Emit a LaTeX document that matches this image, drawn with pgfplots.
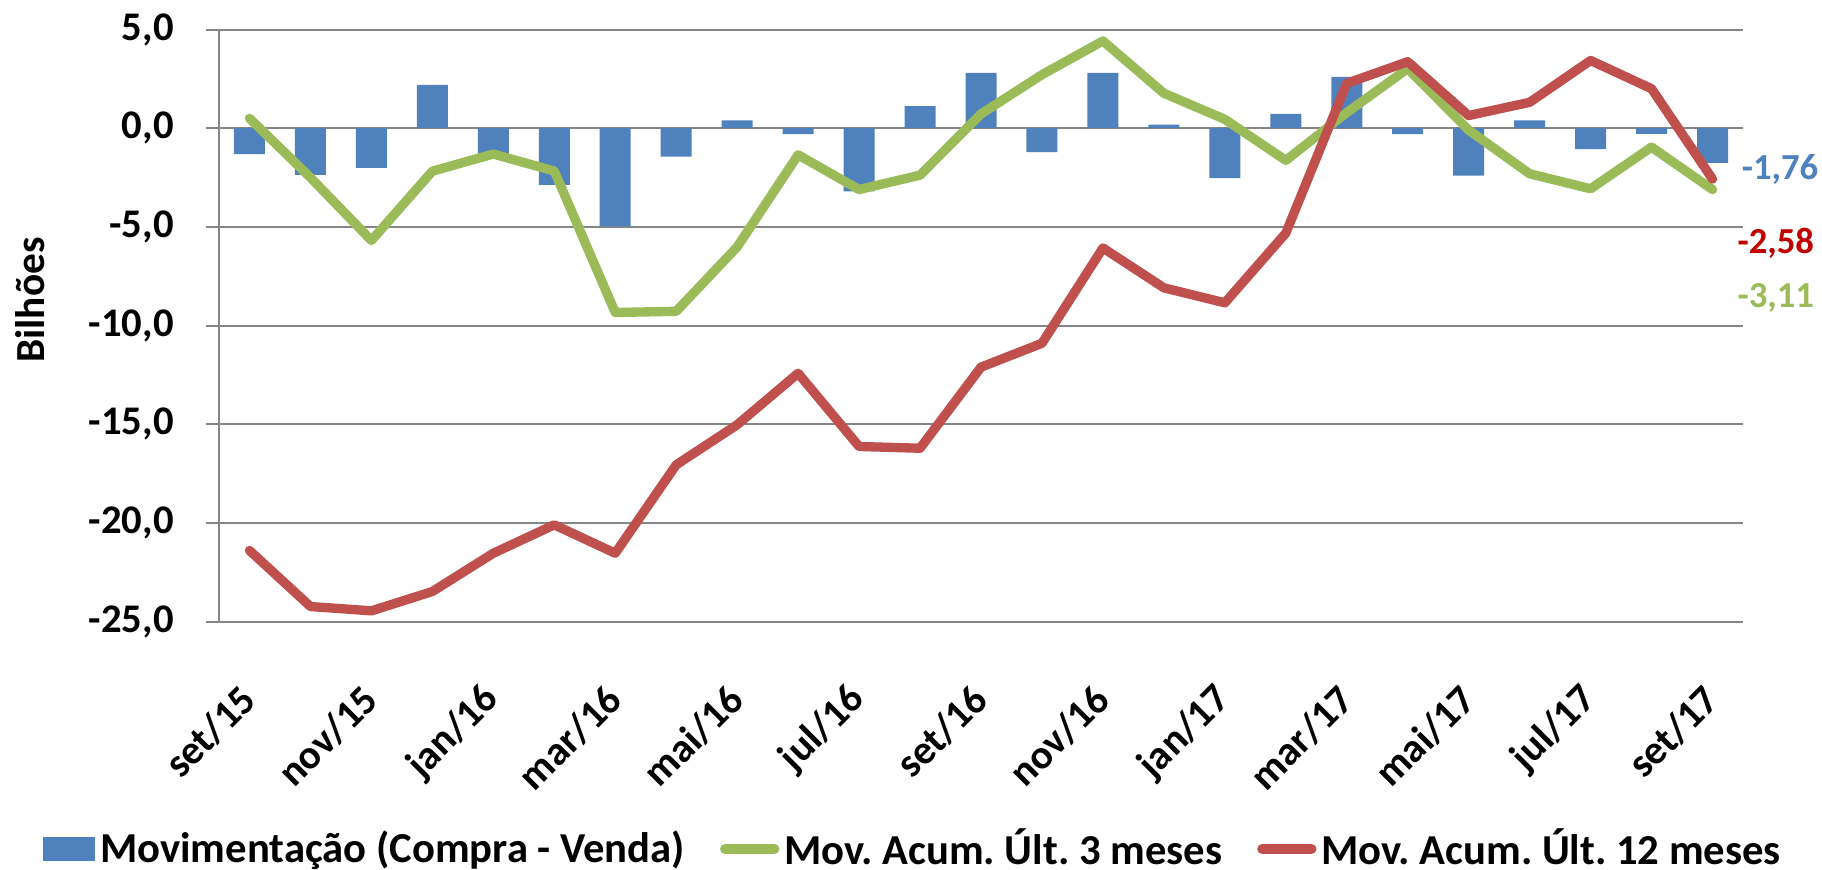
\documentclass[border=0pt]{standalone}
\usepackage{pgfplots}
\pgfplotsset{compat=1.18}
\usepackage{fontspec}
\setmainfont{Carlito}
\definecolor{barblue}{HTML}{4F81BD}
\definecolor{lgreen}{HTML}{9BBB59}
\definecolor{lred}{HTML}{C0504D}
\definecolor{lblred}{HTML}{C00000}
\definecolor{gridgray}{HTML}{868686}
\begin{document}
\frenchspacing
\begin{tikzpicture}
\useasboundingbox (-65.7pt,-74.25pt) rectangle (480.9pt,186.45pt);
\begin{axis}[
  at={(0pt,0pt)}, anchor=south west,
  scale only axis, width=457.2pt, height=177.6pt,
  xmin=-0.5, xmax=24.5, ymin=-25, ymax=5,
  clip=false,
  axis line style={draw=none},
  ymajorgrids, grid style={gridgray, line width=0.6pt},
  extra x ticks={-0.5}, extra x tick labels={},
  extra x tick style={grid=major, major grid style={gridgray, line width=0.6pt}},
  xtick={0,2,...,24},
  xticklabels={set/15,nov/15,jan/16,mar/16,mai/16,jul/16,set/16,nov/16,jan/17,mar/17,mai/17,jul/17,set/17},
  ytick={-25,-20,...,5},
  yticklabels={{-25,0},{-20,0},{-15,0},{-10,0},{-5,0},{0,0},{5,0}},
  xtick style={draw=none},
  ytick pos=left,
  ytick style={gridgray, line width=0.6pt},
  tick align=outside, major tick length=3.9pt,
  tick label style={font=\fontsize{12.2}{14}\selectfont\bfseries},
  yticklabel style={anchor=east, inner sep=0pt, xshift=-9.5pt},
  xticklabel style={yshift=-17.5pt, rotate=45, anchor=east, inner sep=0pt},
  ylabel={Bilhões},
  ylabel style={at={(axis description cs:-0.124,0.543)}, anchor=center, font=\fontsize{12.4}{14}\selectfont\bfseries},
  legend columns=-1,
  legend style={at={(axis description cs:0.4564,-0.384)}, anchor=center, draw=none, fill=none,
    font=\fontsize{12.8}{14}\selectfont\bfseries,
    nodes={inner xsep=1.5pt, inner ysep=0pt},
    /tikz/every even column/.append style={column sep=9pt}},
]
\addplot[ybar, bar width=9.3pt, fill=barblue, draw=none,
  legend image code/.code={\fill[barblue] (0pt,-3.6pt) rectangle (15.6pt,3.6pt);}]
coordinates {
(0,-1.31) (1,-2.37) (2,-2.01) (3,2.20) (4,-1.50) (5,-2.87) (6,-4.97) (7,-1.44)
(8,0.39) (9,-0.30) (10,-3.20) (11,1.12) (12,2.80) (13,-1.21) (14,2.80) (15,0.18)
(16,-2.53) (17,0.72) (18,2.60) (19,-0.30) (20,-2.40) (21,0.39) (22,-1.06) (23,-0.29) (24,-1.76)
};
\addlegendentry{Movimentação (Compra - Venda)}
\addplot[lgreen, line width=2.8pt, line join=round, line cap=round,
  legend image code/.code={\draw[lgreen, line width=3pt, line cap=round] (1.5pt,0pt) -- (16.3pt,0pt);}]
coordinates {
(0,0.50) (1,-2.50) (2,-5.69) (3,-2.18) (4,-1.31) (5,-2.17) (6,-9.34) (7,-9.28)
(8,-6.02) (9,-1.35) (10,-3.11) (11,-2.38) (12,0.72) (13,2.71) (14,4.42) (15,1.77)
(16,0.45) (17,-1.63) (18,0.79) (19,3.02) (20,-0.10) (21,-2.31) (22,-3.07) (23,-0.96) (24,-3.11)
};
\addlegendentry{Mov. Acum. Últ. 3 meses}
\addplot[lred, line width=2.8pt, line join=round, line cap=round,
  legend image code/.code={\draw[lred, line width=3pt, line cap=round] (1.5pt,0pt) -- (16.3pt,0pt);}]
coordinates {
(0,-21.40) (1,-24.24) (2,-24.46) (3,-23.48) (4,-21.54) (5,-20.10) (6,-21.54) (7,-17.06)
(8,-15.03) (9,-12.42) (10,-16.13) (11,-16.22) (12,-12.11) (13,-10.90) (14,-6.07) (15,-8.09)
(16,-8.85) (17,-5.32) (18,2.27) (19,3.37) (20,0.64) (21,1.31) (22,3.43) (23,2.00) (24,-2.58)
};
\addlegendentry{Mov. Acum. Últ. 12 meses}
\node[anchor=west, inner sep=0pt, text=barblue, font=\fontsize{11}{13}\selectfont\bfseries] at (axis cs:24.47,-2.11) {-1,76};
\node[anchor=west, inner sep=0pt, text=lblred, font=\fontsize{11}{13}\selectfont\bfseries] at (axis cs:24.40,-5.86) {-2,58};
\node[anchor=west, inner sep=0pt, text=lgreen, font=\fontsize{11}{13}\selectfont\bfseries] at (axis cs:24.40,-8.60) {-3,11};
\end{axis}
\end{tikzpicture}
\end{document}
